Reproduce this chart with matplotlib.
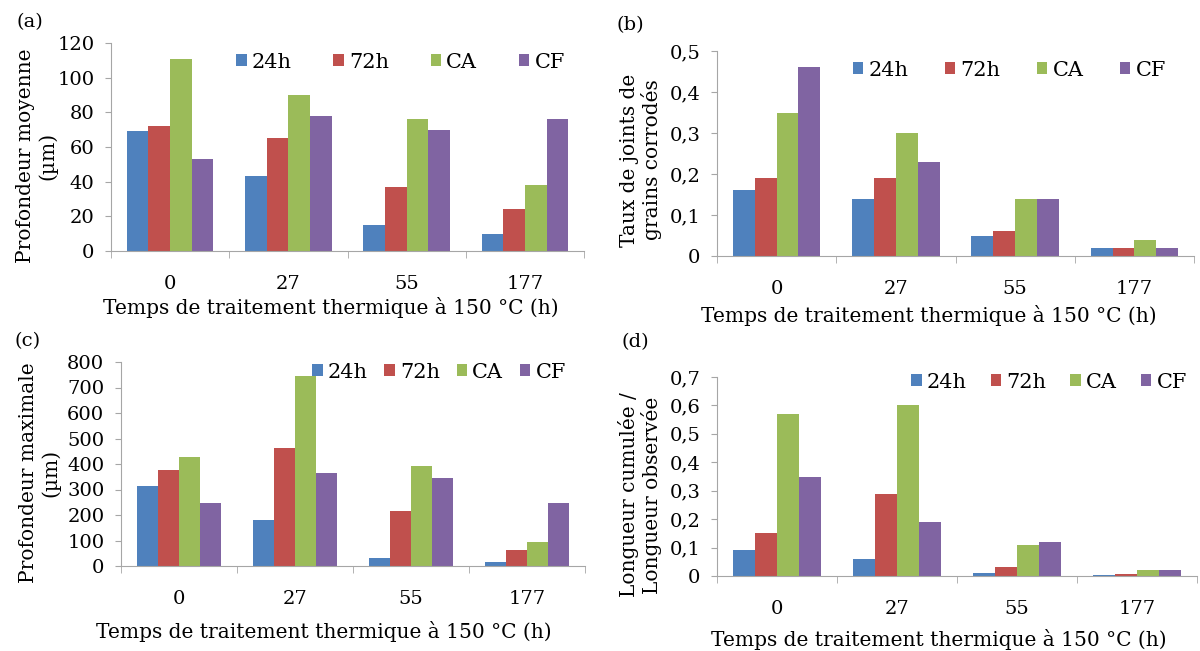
import matplotlib
matplotlib.use('Agg')
import matplotlib.pyplot as plt
import numpy as np

# Heat-treatment times (categories) and series names
categories = ["0", "27", "55", "177"]
series = ["24h", "72h", "CA", "CF"]
colors = ['#4F81BD', '#C0504D', '#9BBB59', '#8064A2']

# (a) Profondeur moyenne (µm)
mean_depth = {
    "24h": [69, 43, 15, 10],
    "72h": [72, 65, 37, 24],
    "CA": [111, 90, 76, 38],
    "CF": [53, 78, 70, 76],
}
# (b) Taux de joints de grains corrodés
grain_rate = {
    "24h": [0.16, 0.14, 0.05, 0.02],
    "72h": [0.19, 0.19, 0.06, 0.02],
    "CA": [0.35, 0.30, 0.14, 0.04],
    "CF": [0.46, 0.23, 0.14, 0.02],
}
# (c) Profondeur maximale (µm)
max_depth = {
    "24h": [312, 182, 33, 14],
    "72h": [375, 463, 216, 63],
    "CA": [429, 745, 391, 93],
    "CF": [247, 364, 346, 247],
}
# (d) Longueur cumulée / Longueur observée
length_ratio = {
    "24h": [0.09, 0.06, 0.01, 0.002],
    "72h": [0.15, 0.29, 0.03, 0.008],
    "CA": [0.57, 0.60, 0.11, 0.02],
    "CF": [0.35, 0.19, 0.12, 0.02],
}

plt.rcParams['font.family'] = ['DejaVu Serif']
xlabel = "Temps de traitement thermique à 150 °C (h)"
W, H = 1200, 651
grey = '#A6A6A6'


def px(x, y):
    # pixel position (from top-left) -> figure fraction
    return x / W, 1 - y / H


def draw_panel(box, data, ylim, yticks, ytick_labels, ylabel, tag,
               tag_xy, ylab_xy, xlab_xy, leg_xy, colspace):
    l, t, r, b = box
    ax = fig.add_axes([l / W, 1 - b / H, (r - l) / W, (b - t) / H])
    x = np.arange(len(categories))
    w = 0.183
    for i, s in enumerate(series):
        ax.bar(x + (i - 1.5) * w, data[s], width=w, color=colors[i], label=s)
    ax.set_xlim(-0.5, len(categories) - 0.5)
    ax.set_ylim(*ylim)
    ax.set_yticks(yticks)
    ax.set_yticklabels(ytick_labels, fontsize=14)
    ax.set_xticks(x)
    ax.set_xticklabels(categories, fontsize=14)
    ax.set_xticks(np.arange(-0.5, len(categories)), minor=True)
    ax.tick_params(axis='x', which='major', length=0, pad=17)
    ax.tick_params(axis='x', which='minor', length=5, color=grey)
    ax.tick_params(axis='y', length=4, color=grey, pad=8)
    for sp in ['top', 'right']:
        ax.spines[sp].set_visible(False)
    for sp in ['left', 'bottom']:
        ax.spines[sp].set_color(grey)
    ax.legend(loc='center right', bbox_to_anchor=px(*leg_xy), bbox_transform=fig.transFigure,
              ncol=4, frameon=False, fontsize=15, handlelength=0.5, handleheight=0.5,
              handletextpad=0.25, columnspacing=colspace, borderaxespad=0, borderpad=0)
    fig.text(*px(*xlab_xy), xlabel, fontsize=14.5, ha='center', va='center')
    fig.text(*px(*ylab_xy), ylabel, fontsize=14.5, ha='center', va='center',
             rotation=90, linespacing=1.15, multialignment='center')
    fig.text(*px(*tag_xy), tag, fontsize=14, ha='center', va='center')
    return ax


fig = plt.figure(figsize=(12, 6.51), dpi=100)

draw_panel((111, 43, 584, 251), mean_depth, (0, 120),
           range(0, 121, 20), [str(v) for v in range(0, 121, 20)],
           "Profondeur moyenne\n(µm)", "(a)",
           (30, 22), (37, 156), (331, 308), (565, 62), 2.0)
draw_panel((717, 51, 1194, 256), grain_rate, (0, 0.5),
           np.arange(0, 0.51, 0.1), ["0", "0,1", "0,2", "0,3", "0,4", "0,5"],
           "Taux de joints de\ngrains corrodés", "(b)",
           (630, 25), (641, 160), (929, 315), (1166, 70), 1.75)
draw_panel((121, 362, 585, 566), max_depth, (0, 800),
           range(0, 801, 100), [str(v) for v in range(0, 801, 100)],
           "Profondeur maximale\n(µm)", "(c)",
           (28, 341), (40, 473), (324, 632), (566, 372), 0.8)
draw_panel((717, 377, 1197, 576), length_ratio, (0, 0.7),
           np.arange(0, 0.71, 0.1), ["0", "0,1", "0,2", "0,3", "0,4", "0,5", "0,6", "0,7"],
           "Longueur cumulée /\nLongueur observée", "(d)",
           (635, 342), (640, 495), (939, 640), (1187, 382), 1.15)

plt.savefig('out.png', dpi=100)
